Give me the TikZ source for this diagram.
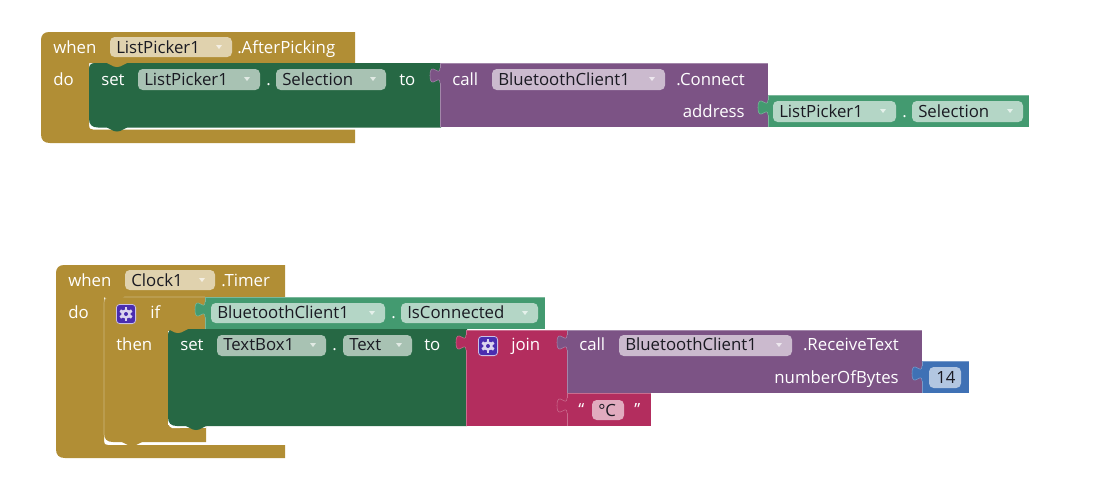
\documentclass[tikz,border=0pt]{standalone}
\usepackage{fontspec}
\setmainfont{Open Sans}
\definecolor{gold}{HTML}{B18E35}
\definecolor{goldf}{HTML}{E0D2AE}
\definecolor{dgreen}{HTML}{266844}
\definecolor{dgreenf}{HTML}{A8C2B3}
\definecolor{purp}{HTML}{7C5385}
\definecolor{purpf}{HTML}{CBBACE}
\definecolor{teal2}{HTML}{439A70}
\definecolor{tealf}{HTML}{B4D6C6}
\definecolor{pink2}{HTML}{B32D5E}
\definecolor{pinkf}{HTML}{E1ABBF}
\definecolor{blue2}{HTML}{3F71B5}
\definecolor{bluef}{HTML}{B2C6E1}
\definecolor{gearc}{HTML}{4A2DB0}
\definecolor{ink}{HTML}{1A1A22}
\tikzset{
  lbl/.style={anchor=base west,inner sep=0pt,text=white,font=\fontsize{12.6}{15}\selectfont},
  lblr/.style={lbl,anchor=base east},
  fldtxt/.style={anchor=base west,inner sep=0pt,text=ink,font=\fontsize{12.6}{15}\selectfont},
  gearbox/.style={draw=white!70!gearc,line width=0.6pt,fill=gearc,rounded corners=2.5pt,minimum size=14.4pt,inner sep=0pt}
}
% value / plain block: l t r b colour
\newcommand{\blk}[5]{%
  \fill[#5] (#1,#2) rectangle (#3,#4);
  \draw[#5!70!white,line width=0.5pt] (#1,#4) -- (#1,#2) -- (#3,#2);
}
% puzzle tab on left edge at x, block top y
\newcommand{\tabb}[3]{%
  \fill[#3] (#1+1,#2+5) -- (#1,#2+5) .. controls (#1,#2+15) and (#1-10,#2-3) .. (#1-10,#2+12.5)
     .. controls (#1-10,#2+28) and (#1,#2+10) .. (#1,#2+20) -- (#1+1,#2+20) -- cycle;
  \draw[#3!70!white,line width=0.4pt] (#1,#2+5) .. controls (#1,#2+15) and (#1-10,#2-3) .. (#1-10,#2+12.5)
     .. controls (#1-10,#2+28) and (#1,#2+10) .. (#1,#2+20);
}
% statement block with rounded left corners: l t r b colour
\newcommand{\stmt}[5]{%
  \fill[#5] (#3,#2) -- (#1+6,#2) .. controls (#1+2,#2) and (#1,#2+2) .. (#1,#2+6)
     -- (#1,#4-9) .. controls (#1,#4-3) and (#1+3,#4) .. (#1+9,#4) -- (#3,#4) -- cycle;
}
% notch hanging below y, spanning l+18..l+38
\newcommand{\notch}[3]{%
  \fill[#3] (#1+18,#2-1) -- (#1+18,#2) .. controls (#1+22,#2+1) and (#1+23,#2+4) .. (#1+28,#2+4)
     .. controls (#1+33,#2+4) and (#1+34,#2+1) .. (#1+38,#2) -- (#1+38,#2-1) -- cycle;
}
% hat-free C-shaped container: l t r inL barB stripT b colour (stripR optional as r)
\newcommand{\cshape}[7]{%
  \fill[gold] (#3,#2) -- (#1+8,#2) .. controls (#1+3,#2) and (#1,#2+3) .. (#1,#2+8)
     -- (#1,#7-9) .. controls (#1,#7-3) and (#1+3,#7) .. (#1+9,#7) -- (#3,#7) -- (#3,#6)
     -- (#4+4,#6) .. controls (#4+1,#6) and (#4,#6-1) .. (#4,#6-4) -- (#4,#5) -- (#3,#5) -- cycle;
}
% field: name x1 x2 y1 y2 fill text baseline dropdown-colour
\newcommand{\fld}[8]{%
  \fill[#6,rounded corners=3.5pt] (#2,#4) rectangle (#3,#5);
  \node[fldtxt] (#1) at (#2+6,#8) {#7};
  \fill[#6!35!white] (#3-16,#4+8) -- (#3-10,#4+8) -- (#3-13,#4+12) -- cycle;
}
\newcommand{\gearicon}[2]{%
  \foreach \a in {0,60,...,300}{\fill[white!80!gearc,rotate around={\a:(#1.center)}] ([xshift=-1.1pt,yshift=2.6pt]#1.center) rectangle ([xshift=1.1pt,yshift=5pt]#1.center);}
  \fill[white!80!gearc] (#1.center) circle (3.6pt);
  \fill[gearc] (#1.center) circle (1.5pt);
}
\begin{document}
\begin{tikzpicture}[x=0.75pt,y=-0.75pt]
\useasboundingbox (0,0) rectangle (1101,487);
% ---------- top group ----------
\cshape{41}{32}{355}{89}{63}{129.5}{143}
\notch{89}{63}{gold}
\stmt{89}{63}{441}{127.5}{dgreen}
\notch{89}{63}{gold}
\notch{89}{127.5}{dgreen}
\blk{440}{63}{768}{127}{purp}
\tabb{440}{63}{purp}
\blk{768}{95}{1029}{127}{teal2}
\tabb{768}{95}{teal2}
\node[lbl] (w1) at (53,53) {when};
\fld{fa}{110}{232}{37}{57}{goldf}{ListPicker1}{53}
\node[lbl] (ap) at (237,53) {.AfterPicking};
\node[lbl] (do1) at (53,85) {do};
\node[lbl] (s1) at (101,85) {set};
\fld{fb}{138}{260}{69}{90}{dgreenf}{ListPicker1}{85}
\node[lbl] (d1) at (266,85) {.};
\fld{fc}{276}{386}{69}{90}{dgreenf}{Selection}{85}
\node[lbl] (to1) at (399,85) {to};
\node[lbl] (c1) at (452,85) {call};
\fld{fd}{492}{665}{69}{90}{purpf}{BluetoothClient1}{85}
\node[lblr] (cn) at (745,85) {.Connect};
\node[lblr] (ad) at (745,117) {address};
\fld{fe}{773}{896}{101}{122}{tealf}{ListPicker1}{117}
\node[lbl] (d2) at (902,117) {.};
\fld{ff}{912}{1023}{101}{122}{tealf}{Selection}{117}
% ---------- bottom group ----------
\cshape{56}{265}{285}{104}{297}{445}{458}
\stmt{104}{297}{206}{442}{gold}
\fill[white] (168,329) rectangle (206,428);
\fill[gold] (168,329) rectangle (206,331);
\fill[gold] (180,428) rectangle (205,442);
\fill[gold] (160,420) rectangle (168,442);
\fill[gold] (168,425) rectangle (180,442);
\fill[white] (172,428) .. controls (170,428) and (168.5,426) .. (168,420) -- (168,416) -- (180,416) -- (180,428) -- cycle;
\draw[gold!65!white,line width=0.5pt] (104,435) -- (104,303) .. controls (104,299) and (106,297) .. (110,297) -- (205,297);
\notch{56}{297}{gold}
\notch{86}{297}{gold}
\notch{104}{442}{gold}
\stmt{168}{329}{467}{426}{dgreen}
\notch{150}{329}{gold}
\notch{168}{426}{dgreen}
\blk{205}{297}{545}{329}{teal2}
\tabb{205}{297}{teal2}
\blk{466}{330}{567}{426}{pink2}
\tabb{466}{330}{pink2}
\blk{567}{330}{922}{393}{purp}
\tabb{567}{330}{purp}
\blk{922}{361}{969}{393}{blue2}
\tabb{922}{361}{blue2}
\blk{567}{393}{651}{426}{pink2}
\tabb{567}{393}{pink2}
\node[lbl] (w2) at (68,286) {when};
\fld{ga}{125}{215}{270}{290}{goldf}{Clock1}{286}
\node[lbl] (tm) at (221,286) {.Timer};
\node[lbl] (do2) at (68,318) {do};
\node[gearbox] (g1) at (126,314) {};
\gearicon{g1}{}
\node[lbl] (if1) at (150,318) {if};
\node[lbl] (th) at (116,350) {then};
\fld{gb}{211}{385}{303}{323}{tealf}{BluetoothClient1}{318}
\node[lbl] (d3) at (391,318) {.};
\fld{gc}{401}{538}{303}{323}{tealf}{IsConnected}{318}
\node[lbl] (s2) at (180,350) {set};
\fld{gd}{217}{326}{335}{356}{dgreenf}{TextBox1}{350}
\node[lbl] (d4) at (332,350) {.};
\fld{ge}{343}{412}{335}{356}{dgreenf}{Text}{350}
\node[lbl] (to2) at (424,350) {to};
\node[gearbox] (g2) at (488,346) {};
\gearicon{g2}{}
\node[lbl] (jn) at (511,350) {join};
\node[lbl] (c2) at (579,350) {call};
\fld{gf}{619}{792}{335}{356}{purpf}{BluetoothClient1}{350}
\node[lblr] (rt) at (899,350) {.ReceiveText};
\node[lblr] (nb) at (899,383) {numberOfBytes};
\fill[bluef,rounded corners=3.5pt] (929,367) rectangle (961,388);
\node[fldtxt] (n14) at (936,383) {14};
\node[lbl] (q1) at (578,415) {“};
\fill[pinkf,rounded corners=3.5pt] (592,400) rectangle (624,420);
\node[fldtxt] (dg) at (598,416) {°C};
\node[lbl] (q2) at (634,415) {”};
\end{tikzpicture}
\end{document}
